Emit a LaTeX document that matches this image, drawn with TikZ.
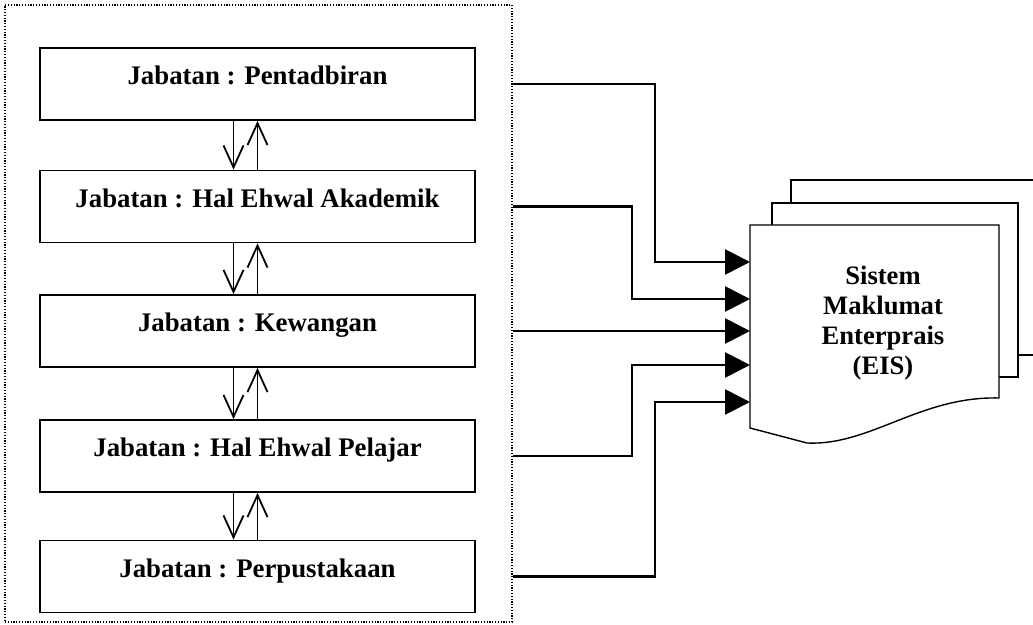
\documentclass[tikz,border=0pt]{standalone}
\usepackage{fontspec}
\setmainfont{Liberation Serif}
\usetikzlibrary{arrows.meta,fit}

\tikzset{
  dept/.style={draw, line width=0.9pt, minimum width=217.5pt, inner xsep=0pt, inner ysep=0pt,
    text height=18.5pt, text depth=17.5pt, font=\fontsize{13.4}{16}\selectfont\bfseries},
  frame/.style={draw, dash pattern=on 0.6pt off 0.8pt, line width=0.6pt, inner sep=0pt},
  link/.style={line width=0.9pt, -{Straight Barb[length=11pt,width=10pt]}},
  feed/.style={line width=1.4pt, -{Triangle[length=12.5pt,width=12.5pt]}},
  page/.style={line width=0.7pt},
  eis/.style={align=center, font=\fontsize{13.3}{15}\selectfont\bfseries},
}

\begin{document}
\begin{tikzpicture}[x=0.5pt, y=-0.5pt]
    \useasboundingbox (0,0) rectangle (1033,625);
    % departments
    \node[dept] (dept1) at (257.5,84) {Jabatan : Pentadbiran};
    \node[dept] (dept2) at (257.5,206.5) {Jabatan : Hal Ehwal Akademik};
    \node[dept] (dept3) at (257.5,331) {Jabatan : Kewangan};
    \node[dept] (dept4) at (257.5,456) {Jabatan : Hal Ehwal Pelajar};
    \node[dept] (dept5) at (257.5,576.5) {Jabatan : Perpustakaan};
    \node[frame, fit={(5,5) (512,622)}] (frame) {};
    \foreach \a/\b in {1/2,2/3,3/4,4/5} {
    \draw[link] ([xshift=-12pt]dept\a.south) -- ([xshift=-12pt]dept\b.north);
    \draw[link] (dept\b.north) -- (dept\a.south);
    }
    % EIS pages
    \draw[page] (791,203) -- (791,180) -- (1040,180);
    \draw[page] (1018,355) -- (1040,355);
    \draw[page] (772,225) -- (772,203) -- (1018,203) -- (1018,377) -- (999,377);
    \draw[page, fill=white] (750,225) -- (999,225) -- (999,398)
      .. controls (920,396) and (870,446) .. (807,443) -- (750,428) -- cycle;
    \node[eis] (eis) at (883,323) {Sistem\\Maklumat\\Enterprais\\(EIS)};
    \foreach \n/\y in {1/262,2/299,3/331,4/365,5/402}
    \coordinate (in\n) at (750,\y);
    \coordinate (bendA) at (655,0);
    \coordinate (bendB) at (632,0);
    % feeds into EIS
    \draw[feed] (frame.east |- dept1) -| (bendA |- in1) -- (in1);
    \draw[feed] (frame.east |- dept2) -| (bendB |- in2) -- (in2);
    \draw[feed] (frame.east |- dept3) -- (in3);
    \draw[feed] (frame.east |- dept4) -| (bendB |- in4) -- (in4);
    \draw[feed] (frame.east |- dept5) -| (bendA |- in5) -- (in5);
\end{tikzpicture}
\end{document}
